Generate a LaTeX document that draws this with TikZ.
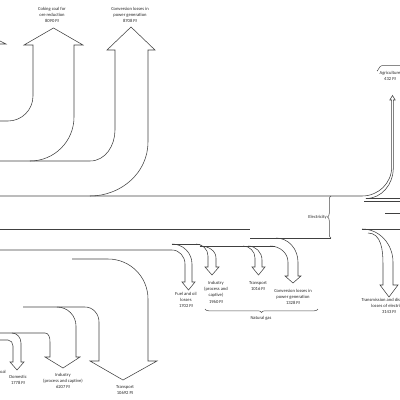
\documentclass[tikz,border=0pt]{standalone}
\usepackage{fontspec}
\setmainfont{Carlito}
\usetikzlibrary{decorations.pathreplacing}
\begin{document}
\begin{tikzpicture}[x=1pt,y=-1pt,
  flow/.style={draw=black!75,line width=0.55pt,line join=miter},
  lab/.style={font=\fontsize{4.6}{6.3}\selectfont,align=center,inner sep=0pt,text=black!85},
  bracest/.style={draw=black!70,line width=0.5pt,decorate,decoration={brace,amplitude=3.5pt}}]
\useasboundingbox (0,0) rectangle (400,400);
\clip (0,0) rectangle (400,400);

% ---- top-left partial arrow
\draw[flow] (-6,38) -- (6,44) -- (0,44);

% ---- coking coal
\draw[flow] (0,121) -- (8,121) to[out=0,in=-90] (33,96) -- (33,45) -- (24,45) -- (53.5,28)
  -- (83,45) -- (74,45) -- (74,117) to[out=-90,in=0] (30,161);
\node[lab] (cok) at (52,15) {Coking coal for\\ore reduction\\8090 PJ};

% ---- conversion losses (coal)
\draw[flow] (0,161) -- (90,161) to[out=0,in=-90] (115,130) -- (115,50) -- (107,50) -- (131,27)
  -- (155,50) -- (148,50) -- (148,142) to[out=-90,in=0] (90,196);
\node[lab] (cvc) at (130,15) {Conversion losses in\\power generation\\8708 PJ};

% ---- electricity band top + agriculture
\draw[flow] (0,196) -- (362,196) to[out=0,in=-90] (391.7,167) -- (391.7,100) -- (389.8,100)
  -- (392.5,95.5) -- (395.2,100) -- (393.3,100) -- (393.3,168) to[out=-90,in=0] (366,198.5) -- (400,198.5);
\draw[flow] (364,201.5) -- (400,201.5);
\draw[flow] (385,213) -- (400,213);
\node[lab] (agr) at (390,76) {Agriculture\\432 PJ};
\draw[draw=black!70,line width=0.5pt] (377,70.5) to[out=-90,in=180] (382,65.5) -- (400,65.5);

% ---- electricity brace
\draw[bracest] (331,238) -- (331,196);
\node[lab,anchor=east] (ele) at (327,217) {Electricity};

% ---- transmission losses
\draw[flow] (362,229) -- (400,229);
\draw[flow] (362,229) to[out=0,in=90] (393,262) -- (393,285) -- (398,285) -- (389,297)
  -- (380,285) -- (383,285) -- (383,264) to[out=90,in=0] (368,233);
\node[lab] (trl) at (389,306) {Transmission and distribution\\losses of electricity\\3143 PJ};

% ---- middle lines
\draw[flow] (0,229) -- (250,229);
\draw[flow] (250,238) -- (331,238);

% ---- fuel and oil losses
\draw[flow] (0,250) -- (172,250) to[out=0,in=90] (185,264) -- (185,282) -- (182,282) -- (188.5,290)
  -- (195,282) -- (192,282) -- (192,264) to[out=90,in=0] (172,244);
\draw[flow] (172,244) -- (200,244);
\node[lab] (fue) at (186,300) {Fuel and oil\\losses\\1702 PJ};

% ---- natural gas: industry
\draw[flow] (196,244) to[out=0,in=90] (208,256) -- (208,267) -- (205,267) -- (212,275)
  -- (219,267) -- (216,267) -- (216,258) to[out=90,in=0] (200,246);
\node[lab] (ngi) at (216,292) {Industry\\(process and\\captive)\\1960 PJ};

% ---- natural gas: transport
\draw[flow] (200,246) -- (275,246);
\draw[flow] (243,246) to[out=0,in=90] (255,258) -- (255,267) -- (252,267) -- (258.5,275)
  -- (265,267) -- (262,267) -- (262,260) to[out=90,in=0] (248,246);
\node[lab] (ngt) at (258,286) {Transport\\1016 PJ};

% ---- natural gas: conversion losses
\draw[flow] (270,246) to[out=0,in=90] (288,262) -- (288,276) -- (285,276) -- (293,283)
  -- (301,276) -- (298,276) -- (298,262) to[out=90,in=0] (276,238);
\node[lab] (ngc) at (293,297) {Conversion losses in\\power generation\\1328 PJ};

\draw[bracest] (318,309) -- (205,309);
\node[lab] (ngl) at (261,318) {Natural gas};

% ---- transport (oil)
\draw[flow] (23,307) -- (85,307) to[out=0,in=90] (99,322) -- (99,361) -- (90,361) -- (123,380)
  -- (157,361) -- (148,361) -- (148,299) to[out=90,in=0] (108,259) -- (72,259);
\node[lab] (trp) at (125,390) {Transport\\10692 PJ};

% ---- industry (oil)
\draw[flow] (0,333) -- (45,333) to[out=0,in=90] (50,342) -- (50,357) -- (45,357) -- (63,368)
  -- (80,357) -- (76,357) -- (76,326) to[out=90,in=0] (57,307);
\node[lab] (ind) at (63,381) {Industry\\(process and captive)\\6207 PJ};

% ---- domestic
\draw[flow] (0,340) -- (8,340) to[out=0,in=90] (13,346) -- (13,362) -- (10,362) -- (17,370)
  -- (24,362) -- (21,362) -- (21,343) to[out=90,in=0] (12,333);
\node[lab] (dom) at (18,380) {Domestic\\1778 PJ};

\node[lab,anchor=east] (oil) at (6,372) {Coal};
\end{tikzpicture}
\end{document}
